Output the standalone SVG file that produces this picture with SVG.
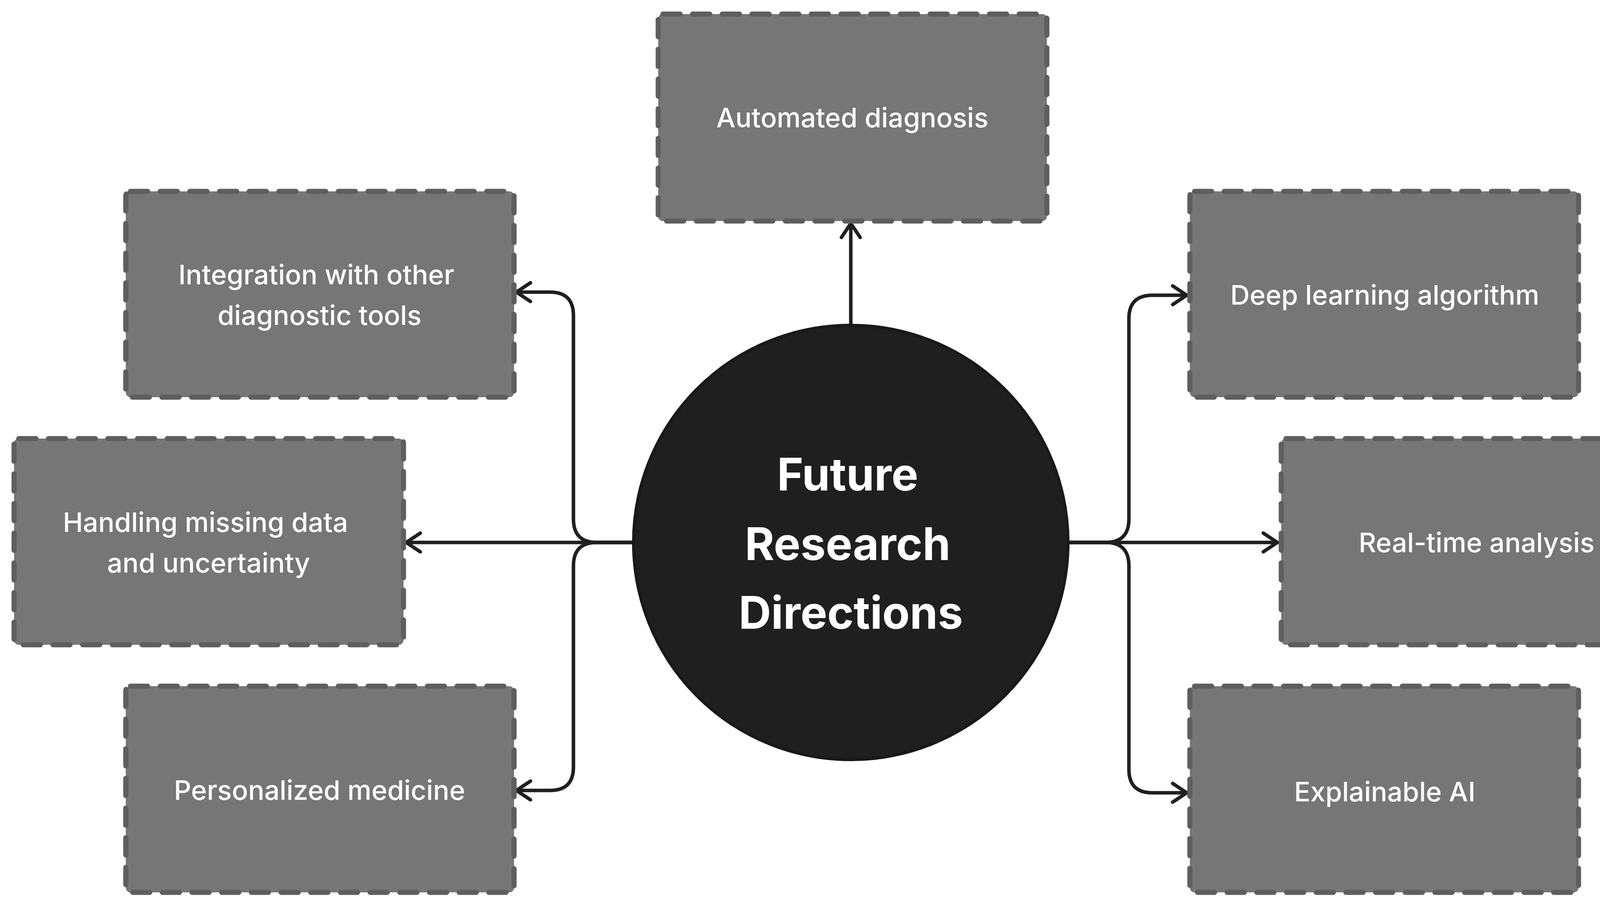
<svg xmlns="http://www.w3.org/2000/svg" width="4307" height="2325" viewBox="0 0 4307 2325">
<style>
.box{fill:#767676;stroke:#5e5e5e;stroke-width:13;stroke-dasharray:44 32;stroke-linecap:round}
.t{font-family:Inter,"Liberation Sans",sans-serif;font-size:69px;fill:#fff;text-anchor:middle;font-weight:500}
.c{font-family:Inter,"Liberation Sans",sans-serif;font-size:115px;fill:#fff;text-anchor:middle;font-weight:700}
.e{fill:none;stroke:#1f1f1f;stroke-width:9;stroke-linecap:round;stroke-linejoin:round;marker-end:url(#a)}
</style>
<defs><marker id="a" markerUnits="userSpaceOnUse" markerWidth="60" markerHeight="60" refX="44" refY="30" orient="auto"><path d="M8 6 L44 30 L8 54" fill="none" stroke="#1f1f1f" stroke-width="9" stroke-linecap="round" stroke-linejoin="round"/></marker></defs>
<g id="connectors">
<path class="e" d="M2178 829 V572"/>
<path class="e" d="M1620 1389 H1040"/>
<path class="e" d="M1620 1389 H1528 Q1468 1389 1468 1329 V808 Q1468 748 1408 748 H1322"/>
<path class="e" d="M1620 1389 H1528 Q1468 1389 1468 1449 V1964 Q1468 2024 1408 2024 H1322"/>
<path class="e" d="M2736 1389 H3270"/>
<path class="e" d="M2736 1389 H2830 Q2890 1389 2890 1329 V816 Q2890 756 2950 756 H3038"/>
<path class="e" d="M2736 1389 H2830 Q2890 1389 2890 1449 V1970 Q2890 2030 2950 2030 H3038"/>
</g>
<g id="center"><circle cx="2178" cy="1389" r="556" fill="#1f1f1f" stroke="#191919" stroke-width="8"/>
<text class="c" x="2170" y="1256">Future</text><text class="c" x="2170" y="1434">Research</text><text class="c" x="2178" y="1610">Directions</text></g>
<g id="n1"><rect class="box" x="1685" y="36" width="995" height="530" rx="12"/><text class="t" x="2182" y="326">Automated diagnosis</text></g>
<g id="n2"><rect class="box" x="322" y="490" width="994" height="527" rx="12"/><text class="t" x="810" y="728">Integration with other</text><text class="t" x="818" y="832">diagnostic tools</text></g>
<g id="n3"><rect class="box" x="36" y="1123" width="997" height="528" rx="12"/><text class="t" x="526" y="1362">Handling missing data</text><text class="t" x="534" y="1466">and uncertainty</text></g>
<g id="n4"><rect class="box" x="322" y="1757" width="994" height="528" rx="12"/><text class="t" x="818" y="2048">Personalized medicine</text></g>
<g id="n5"><rect class="box" x="3046" y="490" width="995" height="527" rx="12"/><text class="t" x="3545" y="780">Deep learning algorithm</text></g>
<g id="n6"><rect class="box" x="3280" y="1123" width="997" height="528" rx="12"/><text class="t" x="3780" y="1414">Real-time analysis</text></g>
<g id="n7"><rect class="box" x="3046" y="1757" width="995" height="528" rx="12"/><text class="t" x="3545" y="2052">Explainable AI</text></g>
</svg>
